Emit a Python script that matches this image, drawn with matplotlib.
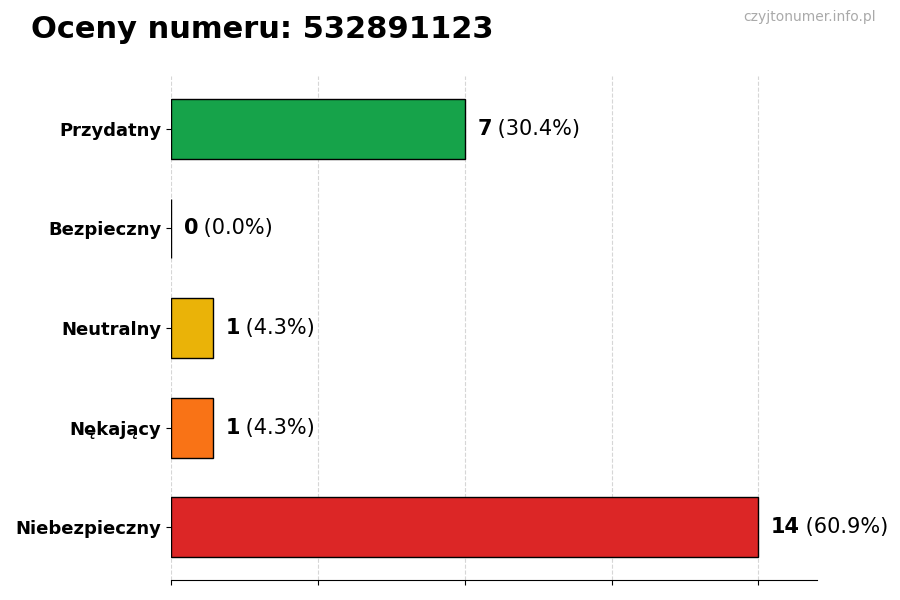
import matplotlib
matplotlib.use('Agg')
import matplotlib.pyplot as plt

''' DADOS '''
categories = ['Niebezpieczny', 'Nękający', 'Neutralny', 'Bezpieczny', 'Przydatny']
counts = [14, 1, 1, 0, 7]
colors = ['#dc2626', '#f97316', '#eab308', '#9ca3af', '#16a34a']
total = sum(counts)

fig = plt.figure(figsize=(9, 6), dpi=100)
ax = fig.add_axes([0.19, 0.0333, 0.718, 0.84])

ypos = list(range(len(categories)))
ax.barh(ypos, counts, height=0.6, color=colors, edgecolor='black', linewidth=1, zorder=3)

# etiquetas: valor em negrito + percentual
for y, c in zip(ypos, counts):
    pct = 100 * c / total
    t = ax.text(c + 0.3, y, f'{c}', fontsize=15, fontweight='bold', va='center', ha='left')
    fig.canvas.draw()
    bb = t.get_window_extent()
    x1 = ax.transData.inverted().transform((bb.x1, 0))[0]
    ax.text(x1, y, f' ({pct:.1f}%)', fontsize=15, va='center', ha='left')

ax.set_yticks(ypos)
ax.set_yticklabels(categories, fontsize=13, fontweight='bold')
ax.set_xlim(0, max(counts) * 1.1)
ax.set_xticks([0, 3.5, 7, 10.5, 14])
ax.set_xticklabels([])
ax.grid(axis='x', linestyle='--', color='#cccccc', alpha=0.8, zorder=0)
for s in ['top', 'right', 'left']:
    ax.spines[s].set_visible(False)

fig.text(0.034, 0.95, 'Oceny numeru: 532891123', fontsize=22, fontweight='bold', va='center', ha='left')
fig.text(0.973, 0.972, 'czyjtonumer.info.pl', fontsize=10, color='#aaaaaa', va='center', ha='right')

fig.savefig('out.png', dpi=100)
